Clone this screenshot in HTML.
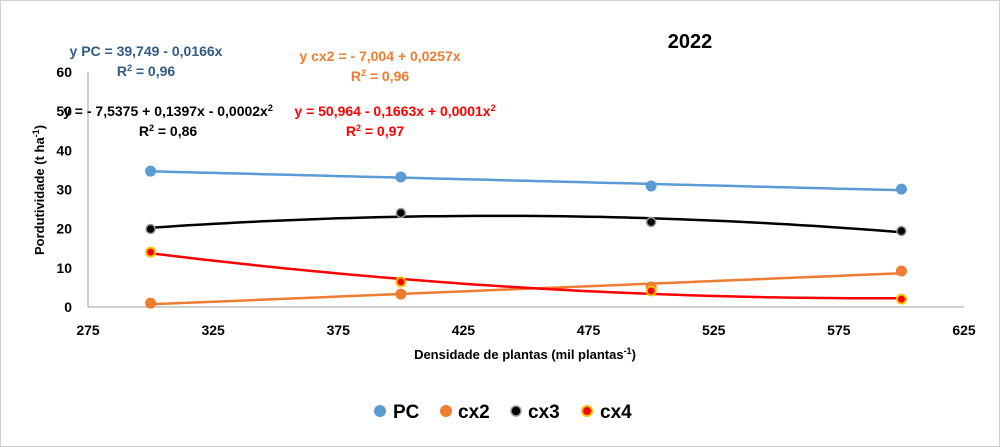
<!DOCTYPE html>
<html><head><meta charset="utf-8"><style>
body{margin:0;background:#fff;}
svg{display:block;font-family:"Liberation Sans",sans-serif;}
</style></head><body>
<svg id="chart" width="1000" height="447">
<rect x="0.5" y="0.5" width="999" height="446" fill="#fff" stroke="#d0d0d0"/>
<text x="690" y="48" text-anchor="middle" font-size="20" font-weight="bold" fill="#000">2022</text>
<g id="axes"></g>
<g id="series"></g>
<text x="44" y="190" text-anchor="middle" font-size="13" font-weight="bold" transform="rotate(-90 44 190)">Pordutividade (t ha<tspan font-size="9" dy="-5">-1</tspan><tspan dy="5">)</tspan></text>
<text x="525" y="359" text-anchor="middle" font-size="13" font-weight="bold">Densidade de plantas (mil plantas<tspan font-size="9" dy="-5">-1</tspan><tspan dy="5">)</tspan></text>
<g font-weight="bold" font-size="14" text-anchor="middle">
<text x="146" y="56" fill="#2f5b85">y PC = 39,749 - 0,0166x</text>
<text x="146" y="76" fill="#2f5b85">R<tspan font-size="9" dy="-5">2</tspan><tspan dy="5"> = 0,96</tspan></text>
<text x="380" y="61" fill="#ed7d31">y cx2 = - 7,004 + 0,0257x</text>
<text x="380" y="81" fill="#ed7d31">R<tspan font-size="9" dy="-5">2</tspan><tspan dy="5"> = 0,96</tspan></text>
<text x="168" y="116" fill="#000">y = - 7,5375 + 0,1397x - 0,0002x<tspan font-size="9" dy="-5">2</tspan></text>
<text x="168" y="136" fill="#000">R<tspan font-size="9" dy="-5">2</tspan><tspan dy="5"> = 0,86</tspan></text>
<text x="395" y="116" fill="#ff0000">y = 50,964 - 0,1663x + 0,0001x<tspan font-size="9" dy="-5">2</tspan></text>
<text x="375" y="136" fill="#ff0000">R<tspan font-size="9" dy="-5">2</tspan><tspan dy="5"> = 0,97</tspan></text>
</g>
<g font-size="19" font-weight="bold">
<g><circle cx="380" cy="411" r="6" fill="#5b9bd5"/><text x="393" y="418">PC</text></g>
<g><circle cx="446" cy="411" r="6" fill="#ed7d31"/><text x="458" y="418">cx2</text></g>
<g><circle cx="516" cy="411" r="5" fill="#000" stroke="#999" stroke-width="1.5"/><text x="528" y="418">cx3</text></g>
<g><circle cx="587" cy="411" r="5" fill="#ff0000" stroke="#ffc000" stroke-width="2"/><text x="600" y="418">cx4</text></g>
</g>
</svg>
<script>
const categories=[300,400,500,600];
const pc=[34.7,33.2,30.9,30.1];
const cx2=[1.0,3.3,5.1,9.2];
const cx3=[19.9,24.0,21.7,19.4];
const cx4=[14.0,6.4,4.1,2.0];
const xTicks=[275,325,375,425,475,525,575,625];
const yTicks=[0,10,20,30,40,50,60];
const NS="http://www.w3.org/2000/svg";
const X0=88,X1=964,Y0=307,Y1=72;
const sx=v=>X0+(v-275)/(625-275)*(X1-X0);
const sy=v=>Y0-(v-0)/(60-0)*(Y0-Y1);
function mk(tag,attrs,parent){const e=document.createElementNS(NS,tag);for(const k in attrs)e.setAttribute(k,attrs[k]);parent.appendChild(e);return e;}
const axes=document.getElementById('axes'),ser=document.getElementById('series');
let l=mk('line',{x1:X0,y1:Y1,x2:X0,y2:Y0,stroke:'#bfbfbf','stroke-width':1.5},axes);


l=mk('line',{x1:X0,y1:Y0,x2:X1,y2:Y0,stroke:'#bfbfbf','stroke-width':1.5},axes);


yTicks.forEach(v=>{const t=mk('text',{x:X0-16,y:sy(v)+5,'text-anchor':'end','font-size':14,'font-weight':'bold'},axes);t.textContent=v;

});
xTicks.forEach(v=>{const t=mk('text',{x:sx(v),y:Y0+28,'text-anchor':'middle','font-size':14,'font-weight':'bold'},axes);t.textContent=v;

});
function fit(ys,deg){// least squares polynomial
 const n=deg+1,A=[],b=[];for(let i=0;i<n;i++){A.push(new Array(n).fill(0));b.push(0);}
 categories.forEach((x,k)=>{for(let i=0;i<n;i++){b[i]+=ys[k]*Math.pow(x,i);for(let j=0;j<n;j++)A[i][j]+=Math.pow(x,i+j);}});
 for(let i=0;i<n;i++){for(let r=i+1;r<n;r++){const f=A[r][i]/A[i][i];for(let c=i;c<n;c++)A[r][c]-=f*A[i][c];b[r]-=f*b[i];}}
 const c=new Array(n).fill(0);for(let i=n-1;i>=0;i--){let s=b[i];for(let j=i+1;j<n;j++)s-=A[i][j]*c[j];c[i]=s/A[i][i];}
 return x=>c.reduce((s,ci,i)=>s+ci*Math.pow(x,i),0);}
const defs=[['pc',pc,1,'#5b9bd5','#5b9bd5',null],['cx2',cx2,1,'#ed7d31','#ed7d31',null],['cx3',cx3,2,'#000','#000','#999'],['cx4',cx4,2,'#ff0000','#ff0000','#ffc000']];
defs.forEach(([name,ys,deg,lc,fc,sc])=>{
 const f=fit(ys,deg);let d='';
 for(let x=categories[0];x<=categories[categories.length-1];x+=5)d+=(d?'L':'M')+sx(x).toFixed(1)+','+sy(f(x)).toFixed(1);
 const p=mk('path',{d:d,fill:'none',stroke:lc,'stroke-width':2.5},ser);
 
 
});
defs.forEach(([name,ys,deg,lc,fc,sc])=>{
 ys.forEach((v,i)=>{const c=mk('circle',{cx:sx(categories[i]),cy:sy(v),r:sc?4.5:5.5,fill:fc},ser);
  if(sc){c.setAttribute('stroke',sc);c.setAttribute('stroke-width',sc==='#ffc000'?2:1.5);}
  
  });
});
</script>
</body></html>
